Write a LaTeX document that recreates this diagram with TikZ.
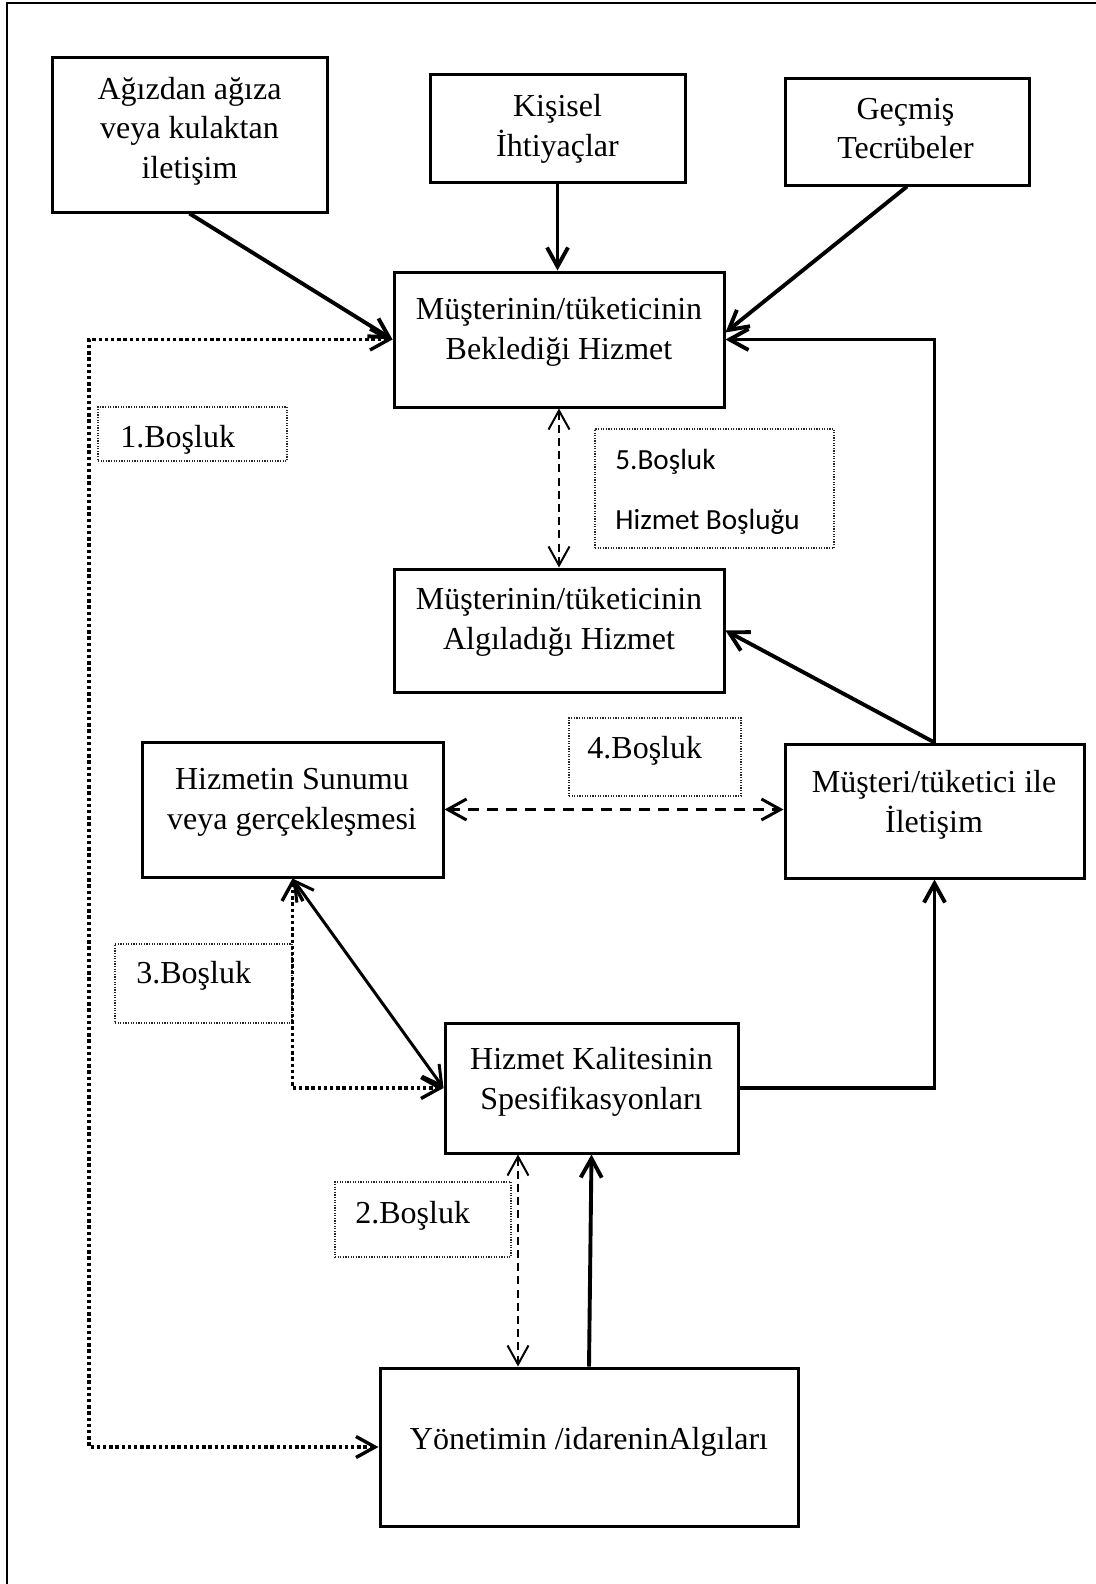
\documentclass[tikz,border=0pt]{standalone}
\usepackage{fontspec}
\setmainfont{Liberation Serif}
\newfontfamily\calfont{Carlito}
\usetikzlibrary{arrows.meta,calc}

\tikzset{
  barb/.tip={Straight Barb[length=9.5pt,width=10.5pt]},
  box/.style={draw, line width=1.5pt, inner sep=0pt},
  gapbox/.style={draw=black!85, line width=0.6pt, dash pattern=on 0.6pt off 0.7pt, inner sep=0pt},
  txt/.style={font=\fontsize{16pt}{19.75pt}\selectfont, align=center, inner sep=0pt, anchor=base},
  gaptxt/.style={font=\fontsize{16pt}{19.75pt}\selectfont, inner sep=0pt, anchor=base west},
  caltxt/.style={font=\calfont\fontsize{14.6pt}{30pt}\selectfont, align=left, inner sep=0pt, anchor=base west},
  solidlink/.style={line width=1.95pt, line join=miter},
  thinlink/.style={line width=1.5pt},
  dashlink/.style={line width=1pt, dash pattern=on 4pt off 2.6pt},
  dashthick/.style={line width=1.5pt, dash pattern=on 5.5pt off 4pt},
  dotlink/.style={line width=1.7pt, line join=miter, dash pattern=on 1.7pt off 1.4pt},
}

\begin{document}
\begin{tikzpicture}[x=0.5pt,y=-0.5pt]
\useasboundingbox (0,0) rectangle (1096,1584);

% page frame (top and left edges)
\draw[line width=1.3pt] (1096,3) -- (7,3) -- (7,1584);

% main boxes
\node[box, minimum width=137.5pt, minimum height=77pt]   (agz) at (189.5,135) {};
\node[box, minimum width=127.5pt, minimum height=53.5pt] (kis) at (557.5,128.5) {};
\node[box, minimum width=122pt,   minimum height=53pt]   (gec) at (907,132) {};
\node[box, minimum width=165pt,   minimum height=67.5pt] (bek) at (559,339.5) {};
\node[box, minimum width=165pt,   minimum height=61.5pt] (alg) at (559,630.5) {};
\node[box, minimum width=150.5pt, minimum height=67.5pt] (sun) at (292.5,809.5) {};
\node[box, minimum width=149.5pt, minimum height=67pt]   (ile) at (934.5,811) {};
\node[box, minimum width=146.5pt, minimum height=65pt]   (kal) at (591.5,1088) {};
\node[box, minimum width=209pt,   minimum height=79pt]   (yon) at (589,1447) {};

% box texts (anchored at the baseline of their last line)
\node[txt] (agz-t) at (189.5,178)  {Ağızdan ağıza\\veya kulaktan\\iletişim};
\node[txt] (kis-t) at (557.5,156)  {Kişisel\\İhtiyaçlar};
\node[txt] (gec-t) at (905.5,158.5){Geçmiş\\Tecrübeler};
\node[txt] (bek-t) at (559,359)    {Müşterinin/tüketicinin\\Beklediği Hizmet};
\node[txt] (alg-t) at (559,649)    {Müşterinin/tüketicinin\\Algıladığı Hizmet};
\node[txt] (sun-t) at (292,829)    {Hizmetin Sunumu\\veya gerçekleşmesi};
\node[txt] (ile-t) at (934,832)    {Müşteri/tüketici ile\\İletişim};
\node[txt] (kal-t) at (591.5,1109) {Hizmet Kalitesinin\\Spesifikasyonları};
\node[txt] (yon-t) at (589,1449)   {Yönetimin /idareninAlgıları};

% gap labels
\node[gapbox, minimum width=94.5pt, minimum height=27pt]   (g1) at (192.5,434) {};
\node[gapbox, minimum width=119.5pt, minimum height=59.5pt] (g5) at (714.5,488.5) {};
\node[gapbox, minimum width=86pt,   minimum height=39pt]   (g4) at (655,757) {};
\node[gapbox, minimum width=88.5pt, minimum height=39.5pt] (g3) at (203.5,983.5) {};
\node[gapbox, minimum width=88pt,   minimum height=37.5pt] (g2) at (423,1219.5) {};
\node[gaptxt] (g1-t) at (120,447)  {1.Boşluk};
\node[caltxt] (g5-t) at (615,529)  {5.Boşluk\\Hizmet Boşluğu};
\node[gaptxt] (g4-t) at (587,758)  {4.Boşluk};
\node[gaptxt] (g3-t) at (136,983)  {3.Boşluk};
\node[gaptxt] (g2-t) at (355,1223) {2.Boşluk};

% helper points
\coordinate (rail) at (89,1447);
\coordinate (x2) at (518,0);

% influences on the expected service
\draw[solidlink, -barb] (agz.south) -- (bek.west);
\draw[solidlink, -barb] (kis.south) -- (kis.south |- bek.north);
\draw[solidlink, -barb] (gec.south) -- ($(bek.east)+(0,-7)$);
\draw[solidlink, -barb] (ile.north) |- (bek.east);
\draw[solidlink, -barb] (ile.north) -- (alg.east);

% gap 5
\draw[dashlink, barb-barb] (bek.south) -- (alg.north);
% gap 4
\draw[dashthick, barb-barb] (sun.east) -- (sun.east -| ile.west);
% specifications to communication
\draw[solidlink, -barb] (kal.east) -| (ile.south);
% delivery and specifications
\draw[thinlink, barb-barb] (sun.south) -- (kal.west);
\draw[dotlink, barb-barb] (sun.south) |- (kal.west);
% gap 1
\draw[dotlink, barb-barb] (bek.west) -| (rail) |- (yon.west);
% gap 2
\draw[dashlink, barb-barb] (x2 |- kal.south) -- (x2 |- yon.north);
% management perceptions to specifications
\draw[solidlink, -barb] (yon.north) -- (kal.south);
\end{tikzpicture}
\end{document}
